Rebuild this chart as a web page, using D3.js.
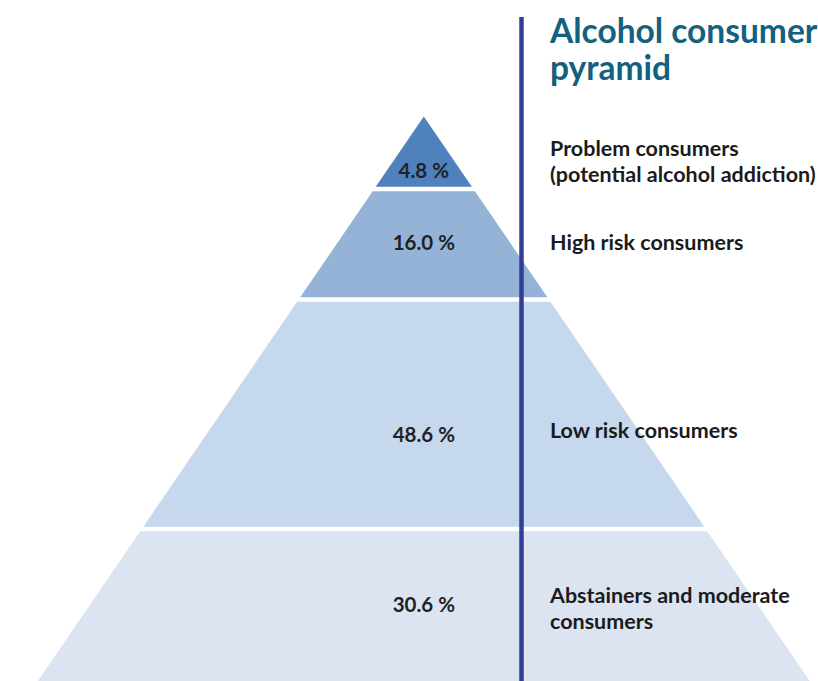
<!DOCTYPE html>
<html>
<head>
<meta charset="utf-8">
<script src="https://cdn.jsdelivr.net/npm/d3@7"></script>
<style>
  html, body { margin: 0; padding: 0; background: #fff; }
  svg { display: block; }
</style>
</head>
<body>
<svg id="chart" width="818" height="681"></svg>
<script>
// Tiers listed from the top of the pyramid down
const tiers = ["Problem consumers", "High risk consumers", "Low risk consumers", "Abstainers and moderate consumers"];
const shares = [4.8, 16.0, 48.6, 30.6];
const tierLines = [
  ["Problem consumers", "(potential alcohol addiction)"],
  ["High risk consumers"],
  ["Low risk consumers"],
  ["Abstainers and moderate", "consumers"]
];
const tierColors = ["#4f81bd", "#95b3d7", "#c6d8ee", "#dce4f1"];
const titleLines = ["Alcohol consumer", "pyramid"];

const W = 818, H = 681;
const svg = d3.select("#chart");

// Layout: relative heights of the tiers along the pyramid (apex = 0, base = 1)
const stops = [0, 0.1285, 0.3242, 0.7307, 1];
const gap = 4.5;
const cx = 423.8;

const y = d3.scaleLinear().domain([0, 1]).range([116.5, 681]);
const halfW = d3.scaleLinear().domain([0, 1]).range([0, 386]);

// pyramid tiers
const tierData = tiers.map((name, i) => ({
  name, value: shares[i], color: tierColors[i],
  t0: stops[i], t1: stops[i + 1], i
}));

function tierPath(d) {
  const ya = y(d.t0) + (d.i === 0 ? 0 : gap / 2);
  const yb = y(d.t1) - (d.i === tiers.length - 1 ? 0 : gap / 2);
  const ta = y.invert(ya), tb = y.invert(yb);
  const pts = [
    [cx - halfW(ta), ya], [cx + halfW(ta), ya],
    [cx + halfW(tb), yb], [cx - halfW(tb), yb]
  ];
  return d3.line()(pts) + "Z";
}

svg.append("g")
  .selectAll("path")
  .data(tierData)
  .join("path")
  .attr("d", tierPath)
  .attr("fill", d => d.color);

// percentage labels inside each tier
const pctBase = [178.3, 250, 441.7, 612];
svg.append("g")
  .selectAll("text")
  .data(tierData)
  .join("text")
  .attr("x", cx)
  .attr("y", (d, i) => pctBase[i])
  .attr("text-anchor", "middle")
  .attr("font-family", "Lato, 'Open Sans', sans-serif")
  .attr("font-weight", 700)
  .attr("font-size", 20.5)
  .attr("fill", "#222")
  .text(d => `${d.value.toFixed(1)} %`);

// divider line
svg.append("line")
  .attr("x1", 521.5).attr("x2", 521.5)
  .attr("y1", 17).attr("y2", H)
  .attr("stroke", "#323e94")
  .attr("stroke-width", 4.5);

// title
const title = svg.append("text")
  .attr("x", 550)
  .attr("font-family", "Lato, 'Open Sans', sans-serif")
  .attr("font-weight", 700)
  .attr("font-size", 33.5)
  .attr("fill", "#13607f");
title.selectAll("tspan")
  .data(titleLines)
  .join("tspan")
  .attr("x", 550)
  .attr("y", (d, i) => 43 + i * 37)
  .text(d => d);

// tier names to the right of the divider
const nameBase = [156, 250, 438, 603];
const nameGroup = svg.append("g")
  .attr("font-family", "Lato, 'Open Sans', sans-serif")
  .attr("font-weight", 700)
  .attr("font-size", 21.5)
  .attr("fill", "#1b1b1b");
nameGroup.selectAll("text")
  .data(tierData)
  .join("text")
  .attr("x", 550)
  .attr("y", (d, i) => nameBase[i])
  .each(function (d, i) {
    d3.select(this).selectAll("tspan")
      .data(tierLines[i])
      .join("tspan")
      .attr("x", 550)
      .attr("dy", (s, j) => j === 0 ? 0 : 26)
      .text(s => s);
  });
</script>
</body>
</html>
